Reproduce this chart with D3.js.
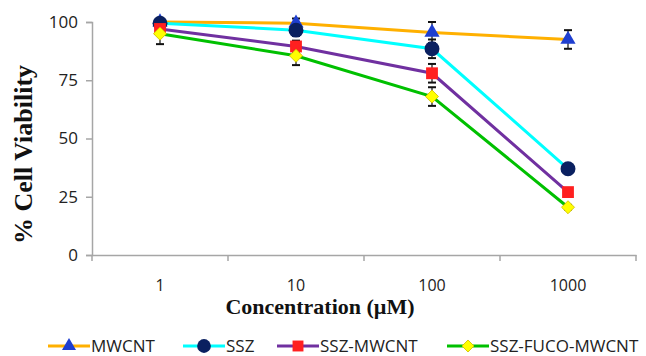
<!DOCTYPE html>
<html>
<head>
<meta charset="utf-8">
<script src="https://cdn.jsdelivr.net/npm/d3@7"></script>
<style>
    body { margin: 0; background: #fff; }
    #chart { width: 646px; height: 356px; }
</style>
</head>
<body>
<div id="chart"></div>
<script>
var concentrations = ["1", "10", "100", "1000"];
var yTicks = [0, 25, 50, 75, 100];
var seriesNames = ["MWCNT", "SSZ", "SSZ-MWCNT", "SSZ-FUCO-MWCNT"];

var mwcntValues = [100, 99.5, 95.5, 92.5];
var mwcntErrors = [1.5, 2, 4.5, 4];
var sszValues = [99.5, 96.5, 88.5, 37];
var sszErrors = [1, 2.5, 4, 1.5];
var sszMwcntValues = [97, 89.5, 78, 27];
var sszMwcntErrors = [2.5, 2.5, 4, 1.5];
var fucoValues = [95, 85.5, 68, 20.5];
var fucoErrors = [4.5, 4, 4, 1];

var lineColors = ["#ffb000", "#00ffff", "#7030a0", "#00c000"];
var markerColors = ["#1f3fd0", "#0a2060", "#ff2020", "#ffff00"];
var markerShapes = [d3.symbolTriangle, d3.symbolCircle, d3.symbolSquare, d3.symbolSquare];
var markerSizes = [100, 175, 140, 85];
var markerRotate = [0, 0, 0, 45];

var series = [
    { name: seriesNames[0], values: mwcntValues, errors: mwcntErrors },
    { name: seriesNames[1], values: sszValues, errors: sszErrors },
    { name: seriesNames[2], values: sszMwcntValues, errors: sszMwcntErrors },
    { name: seriesNames[3], values: fucoValues, errors: fucoErrors }
];

var margin = { top: 22, right: 10, bottom: 101, left: 92 };
var height = 356 - margin.top - margin.bottom;

var svg = d3.select("#chart")
    .append("svg")
    .attr("width", 646)
    .attr("height", 356)
    .append("g")
    .attr("transform", "translate(" + margin.left + "," + margin.top + ")");

var x = d3.scaleBand().domain(concentrations).range([0, 544]);
var y = d3.scaleLinear().domain([0, 100]).range([height, 0]);

// y axis
var yAxis = svg.append("g")
    .call(d3.axisLeft(y).tickValues(yTicks).tickSize(6).tickPadding(8));
yAxis.selectAll("path, line").attr("stroke", "#a6a6a6").attr("stroke-width", 1.5);
yAxis.selectAll("text")
    .style("font-family", "'Open Sans', sans-serif")
    .style("font-size", "17px")
    .attr("fill", "#222");

// x axis
var xAxis = svg.append("g")
    .attr("transform", "translate(0," + height + ")")
    .call(d3.axisBottom(x).tickSize(0).tickPadding(0));
xAxis.select(".domain").attr("stroke", "#a6a6a6").attr("stroke-width", 1.5);
xAxis.selectAll(".tick line").remove();
xAxis.selectAll("text")
    .attr("y", 36)
    .attr("dy", null)
    .style("font-family", "'Open Sans', sans-serif")
    .style("font-size", "16px")
    .attr("fill", "#222");

// x boundary ticks
var bounds = concentrations.map(function (c) { return x(c); }).concat([x.range()[1]]);
svg.append("g")
    .selectAll("line")
    .data(bounds)
    .enter()
    .append("line")
    .attr("x1", function (d) { return d; })
    .attr("x2", function (d) { return d; })
    .attr("y1", height)
    .attr("y2", height + 6)
    .attr("stroke", "#a6a6a6")
    .attr("stroke-width", 1.5);

var cx = function (i) {
    return x(concentrations[i]) + x.bandwidth() / 2;
};

var line = d3.line()
    .x(function (d, i) { return cx(i); })
    .y(function (d) { return y(d); });

// lines
svg.append("g")
    .selectAll("path")
    .data(series)
    .enter()
    .append("path")
    .attr("fill", "none")
    .attr("stroke", function (d, i) { return lineColors[i]; })
    .attr("stroke-width", 3)
    .attr("d", function (d) { return line(d.values); });

// error bars
series.forEach(function (s) {
    var g = svg.append("g").attr("stroke", "#111").attr("stroke-width", 1.2);
    s.values.forEach(function (v, i) {
        var e = s.errors[i];
        g.append("line")
            .attr("x1", cx(i)).attr("x2", cx(i))
            .attr("y1", y(v - e)).attr("y2", y(v + e));
        [v - e, v + e].forEach(function (w) {
            g.append("line")
                .attr("x1", cx(i) - 4).attr("x2", cx(i) + 4)
                .attr("y1", y(w)).attr("y2", y(w))
                .attr("stroke-width", 2);
        });
    });
});

// markers
series.forEach(function (s, k) {
    svg.append("g")
        .selectAll("path")
        .data(s.values)
        .enter()
        .append("path")
        .attr("transform", function (d, i) {
            return "translate(" + cx(i) + "," + y(d) + ") rotate(" + markerRotate[k] + ")";
        })
        .attr("d", d3.symbol().type(markerShapes[k]).size(markerSizes[k]))
        .attr("fill", markerColors[k])
        .attr("stroke", k === 3 ? "#d0c000" : "none")
        .attr("stroke-width", 0.8);
});

// axis titles
svg.append("text")
    .attr("x", 228)
    .attr("y", height + 59)
    .attr("text-anchor", "middle")
    .style("font-family", "'Liberation Serif', serif")
    .style("font-weight", "bold")
    .style("font-size", "22px")
    .attr("fill", "#111")
    .text("Concentration (µM)");

svg.append("text")
    .attr("transform", "translate(-60," + (height / 2 + 16) + ") rotate(-90)")
    .attr("text-anchor", "middle")
    .style("font-family", "'Liberation Serif', serif")
    .style("font-weight", "bold")
    .style("font-size", "26px")
    .attr("fill", "#111")
    .text("% Cell Viability");

// legend
var legendX = [48, 183, 277, 447];
var legend = d3.select("#chart svg")
    .append("g")
    .attr("transform", "translate(0,346)");

seriesNames.forEach(function (name, k) {
    var lg = legend.append("g").attr("transform", "translate(" + legendX[k] + ",0)");
    lg.append("line")
        .attr("x1", 0).attr("x2", 42)
        .attr("stroke", lineColors[k])
        .attr("stroke-width", 3);
    lg.append("path")
        .attr("transform", "translate(21,0) rotate(" + markerRotate[k] + ")")
        .attr("d", d3.symbol().type(markerShapes[k]).size(markerSizes[k] * 0.85))
        .attr("fill", markerColors[k])
        .attr("stroke", k === 3 ? "#d0c000" : "none")
        .attr("stroke-width", 0.8);
    lg.append("text")
        .attr("x", 43)
        .attr("dy", "0.36em")
        .style("font-family", "'Open Sans', sans-serif")
        .style("font-size", "17px")
        .attr("fill", "#222")
        .text(name);
});
</script>
</body>
</html>
